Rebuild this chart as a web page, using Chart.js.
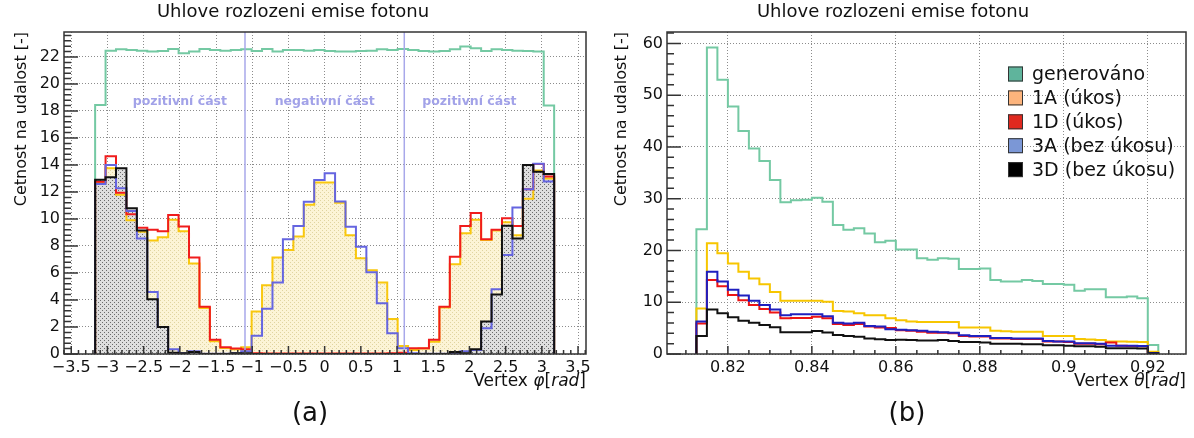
<!DOCTYPE html>
<html>
<head>
<meta charset="utf-8">
<script src="https://cdn.jsdelivr.net/npm/chart.js@4.4.1/dist/chart.umd.min.js"></script>
<style>
html,body{margin:0;padding:0;background:#fff;overflow:hidden;width:1194px;height:438px}
#phi{position:absolute;left:0;top:0}
#theta{position:absolute;left:600px;top:0}
</style>
</head>
<body>
<canvas id="phi" width="620" height="438"></canvas>
<canvas id="theta" width="614" height="438"></canvas>
<script>
// ---- panel (a): vertex phi, 44 bins ----
const phiLo = -3.17, phiHi = 3.17, phiBins = 44;
const phiGen = [18.45,22.47,22.57,22.52,22.47,22.4,22.44,22.59,22.27,22.4,22.59,22.52,22.47,22.52,22.57,22.44,22.59,22.4,22.52,22.52,22.47,22.52,22.44,22.4,22.4,22.44,22.47,22.57,22.52,22.59,22.52,22.44,22.4,22.44,22.57,22.77,22.64,22.44,22.57,22.52,22.47,22.44,22.4,18.4];
const phi1A = [12.65,13.75,11.8,9.9,9.05,8.4,8.65,9.95,9.1,6.7,3.4,0.95,0.45,0.35,0.5,3.15,5.1,7.15,7.7,8.7,11.05,12.7,12.7,11.2,8.8,7.1,6.2,5.3,2.6,0.6,0.3,0.4,0.9,3.45,6.65,8.95,9.95,8.45,9.15,9.75,8.8,11.5,13.6,13.0];
const phi1D = [12.75,14.65,11.95,10.35,9.35,9.2,9.1,10.3,9.45,7.15,3.5,1.05,0.5,0.4,0.35,0.05,0.03,0.03,0.03,0.03,0.03,0.03,0.03,0.03,0.03,0.03,0.03,0.03,0.05,0.1,0.42,0.42,1.05,3.5,7.2,9.48,10.45,8.5,9.2,10.05,9.48,12.2,14.07,13.15];
const phi3A = [12.6,14.0,12.27,10.6,8.55,4.6,2.0,0.35,0.05,0.2,0.02,0.02,0.02,0.05,0.2,1.35,3.35,5.3,8.5,9.48,11.28,12.89,13.38,11.3,9.43,7.95,6.05,3.75,1.53,0.42,0.05,0.02,0.02,0.02,0.05,0.2,0.3,1.9,4.8,7.33,10.85,12.2,14.1,12.77];
const phi3D = [12.9,13.1,13.75,10.8,9.15,4.05,2.0,0.1,0.05,0.15,0,0,0,0.05,0.05,0,0,0,0,0,0,0,0,0,0,0,0,0,0,0,0,0,0,0,0.15,0.05,0.35,2.4,4.4,9.5,8.55,14.0,13.5,13.33];
const phiTicksX = [-3.5,-3,-2.5,-2,-1.5,-1,-0.5,0,0.5,1,1.5,2,2.5,3,3.5];
const phiTicksY = [0,2,4,6,8,10,12,14,16,18,20,22];
const partNames = ["pozitivní část","negativní část","pozitivní část"];
const partX = [-2,0,2];
const partY = 18.7;
const cutX = [-1.1,1.1];

// ---- panel (b): vertex theta, 44 bins ----
const thLo = 0.8125, thHi = 0.9225, thBins = 44;
const thGen = [24.1,59.2,53.0,47.8,43.1,39.7,37.3,33.6,29.3,29.7,29.8,30.2,29.4,24.9,24.0,24.3,23.3,21.6,21.9,20.2,20.2,18.5,18.2,18.5,18.4,16.4,16.4,16.5,14.3,14.0,14.0,14.3,14.1,13.5,13.5,13.4,12.2,12.5,12.5,10.95,10.95,11.1,10.75,1.74];
const th1A = [8.8,21.4,19.45,17.5,15.9,14.6,13.45,12.0,10.3,10.3,10.3,10.3,10.1,8.3,8.2,7.85,7.5,7.5,6.9,6.5,6.3,6.2,6.2,6.2,6.2,5.1,5.1,5.1,4.5,4.4,4.3,4.3,4.3,3.5,3.5,3.5,2.9,2.8,2.7,2.4,2.4,2.35,2.3,0.45];
const th1D = [5.9,14.3,13.1,11.4,10.4,9.46,8.7,8.0,6.9,6.95,6.95,7.2,6.9,5.8,5.6,5.8,5.3,5.1,5.0,4.6,4.5,4.3,4.1,4.1,4.0,3.5,3.4,3.4,3.0,3.0,2.9,2.9,2.9,2.4,2.4,2.3,2.0,2.0,1.9,2.2,1.6,1.55,1.5,0.15];
const th3A = [6.3,15.9,14.0,12.4,11.3,10.3,9.46,8.6,7.5,7.7,7.7,7.7,7.3,6.05,5.9,6.05,5.4,5.3,4.8,4.7,4.6,4.5,4.3,4.2,4.1,3.6,3.5,3.5,3.1,3.1,3.0,3.0,3.0,2.5,2.4,2.4,2.1,2.1,2.0,1.6,1.6,1.6,1.55,0.2];
const th3D = [3.5,8.6,7.85,7.1,6.4,6.05,5.6,5.15,4.2,4.2,4.2,4.45,4.15,3.65,3.5,3.35,3.0,2.85,2.7,2.75,2.7,2.6,2.6,2.7,2.5,2.3,2.3,2.2,2.0,2.0,2.0,1.9,1.9,1.7,1.7,1.6,1.5,1.5,1.4,1.1,1.1,1.1,1.05,0.1];
const thTicksX = [0.82,0.84,0.86,0.88,0.9,0.92];
const thTicksY = [0,10,20,30,40,50,60];
const legendNames = ["generováno","1A (úkos)","1D (úkos)","3A (bez úkosu)","3D (bez úkosu)"];
const legendColors = ["#5fb49c","#fdb47c","#e0291f","#7b97d6","#000000"];

const F = '"DejaVu Sans", sans-serif';
Chart.defaults.font.family = F;

function binEdges(lo, hi, n){ const e=[]; for(let i=0;i<=n;i++) e.push(lo+(hi-lo)*i/n); return e; }
function hist(e, v){
  const p=[{x:e[0],y:0}];
  v.forEach((y,i)=>p.push({x:e[i],y:y}));
  p.push({x:e[v.length],y:v[v.length-1]});
  p.push({x:e[v.length],y:0});
  return p;
}
function dots(bg, fg){
  const c=document.createElement('canvas'); c.width=4; c.height=4;
  const g=c.getContext('2d'); g.fillStyle=bg; g.fillRect(0,0,4,4);
  g.fillStyle=fg; g.fillRect(0,0,1,1); g.fillRect(2,2,1,1);
  return g.createPattern(c,'repeat');
}
function line(label, data, color, order){
  return {label, data, borderColor:color, borderWidth:2, backgroundColor:'transparent', fill:false, stepped:true, pointRadius:0, order};
}
function area(data, pat, order){
  return {data, borderWidth:0, borderColor:'transparent', backgroundColor:pat, fill:'origin', stepped:true, pointRadius:0, order};
}
const fmt = v => String(v).replace('-', '\u2212');

// ROOT-like frame, inner ticks, annotations, legend and axis title
const rootStyle = {
  id:'rootStyle',
  afterDatasetsDraw(chart, args, o){
    const {ctx, chartArea:a, scales:{x,y}} = chart;
    ctx.save();
    (o.cuts||[]).forEach(v=>{
      const px=x.getPixelForValue(v);
      ctx.strokeStyle='#a8a8ea'; ctx.lineWidth=1.5;
      ctx.beginPath(); ctx.moveTo(px,a.top); ctx.lineTo(px,a.bottom); ctx.stroke();
    });
    (o.parts||[]).forEach((t,i)=>{
      ctx.fillStyle='#a2a2e8'; ctx.font='bold 12.5px '+F; ctx.textAlign='center'; ctx.textBaseline='middle';
      ctx.fillText(t, x.getPixelForValue(o.partX[i]), y.getPixelForValue(o.partY));
    });
    ctx.strokeStyle='#333'; ctx.lineWidth=1.5;
    const minorTicks=(s, step, majors, cb)=>{
      for(let k=Math.ceil(s.min/step-1e-9); k*step<=s.max+1e-12; k++){
        const v=k*step; const major=majors.some(m=>Math.abs(m-v)<step*0.01);
        cb(s.getPixelForValue(v), major);
      }
    };
    ctx.beginPath();
    minorTicks(x, o.xMinor, o.xMajor, (p,m)=>{ ctx.moveTo(p,a.bottom); ctx.lineTo(p,a.bottom-(m?8:4)); });
    minorTicks(y, o.yMinor, o.yMajor, (p,m)=>{ ctx.moveTo(a.left,p); ctx.lineTo(a.left+(m?14:7),p); });
    ctx.stroke();
    ctx.strokeRect(a.left,a.top,a.right-a.left,a.bottom-a.top);
    ctx.restore();
  },
  afterDraw(chart, args, o){
    const {ctx, chartArea:a} = chart;
    ctx.save();
    // x axis title: Vertex φ[rad]
    const segs=[['Vertex ',false],[o.sym,true],['[',false],['rad',true],[']',false]];
    const fnt=it=>(it?'italic ':'')+'17px '+F;
    let w=0; segs.forEach(s=>{ctx.font=fnt(s[1]); w+=ctx.measureText(s[0]).width;});
    let xx=a.right-w; ctx.fillStyle='#111'; ctx.textBaseline='middle'; ctx.textAlign='left';
    segs.forEach(s=>{ctx.font=fnt(s[1]); ctx.fillText(s[0],xx,382); xx+=ctx.measureText(s[0]).width;});
    // panel label
    ctx.font='26px '+F; ctx.textAlign='center';
    ctx.fillText(o.panel, chart.width/2, 414);
    // legend
    if(o.legend){
      o.legend.forEach((name,i)=>{
        const bx=a.right-178, yy=a.top+42+i*23.9;
        ctx.fillStyle=o.legendColors[i]; ctx.fillRect(bx,yy-7.5,15,15);
        ctx.strokeStyle='#333'; ctx.lineWidth=1; ctx.strokeRect(bx+0.5,yy-7,14,14);
        ctx.fillStyle='#111'; ctx.font='19px '+F; ctx.textAlign='left';
        ctx.fillText(name,bx+24,yy+1);
      });
    }
    ctx.restore();
  }
};

function axes(xmin,xmax,xt,ymax,yt,yw){
  const grid={color:'#8c8c8c',lineWidth:1,drawTicks:false};
  const border={display:false,dash:[1,2]};
  const tf={family:F,size:16};
  return {
    x:{type:'linear',min:xmin,max:xmax,grid,border,
      afterBuildTicks:s=>{s.ticks=xt.map(v=>({value:v}));},
      afterFit:s=>{s.height=84;s.paddingLeft=0;s.paddingRight=0;},
      ticks:{padding:4,color:'#111',font:tf,maxRotation:0,autoSkip:false,callback:v=>fmt(v)}},
    y:{type:'linear',min:0,max:ymax,grid,border,
      afterBuildTicks:s=>{s.ticks=yt.map(v=>({value:v}));},
      afterFit:s=>{s.width=yw;s.paddingTop=0;s.paddingBottom=0;},
      ticks:{padding:4,color:'#111',font:tf,autoSkip:false,callback:v=>fmt(v)},
      title:{display:true,text:'Cetnost na udalost [-]',align:'end',color:'#111',font:{family:F,size:16},padding:{top:12,bottom:0}}}
  };
}
function titleOpt(){
  return {display:true,text:'Uhlove rozlozeni emise fotonu',color:'#111',font:{family:F,size:18,weight:'normal'},padding:{top:2,bottom:8.4}};
}

const ePhi = binEdges(phiLo, phiHi, phiBins);
new Chart(document.getElementById('phi'),{
  type:'line',
  data:{datasets:[
    area(hist(ePhi,phi1A), dots('#fcf4d6','#e0d4a0'), 10),
    area(hist(ePhi,phi3D), dots('#dedede','#6a6a6a'), 9),
    line('generováno', hist(ePhi,phiGen), '#74c9a3', 5),
    line('1A (úkos)', hist(ePhi,phi1A), '#f9c80e', 4),
    line('1D (úkos)', hist(ePhi,phi1D), '#f01c1c', 3),
    line('3A (bez úkosu)', hist(ePhi,phi3A), '#6565e0', 2),
    line('3D (bez úkosu)', hist(ePhi,phi3D), '#111111', 1)
  ]},
  options:{
    responsive:false, animation:false, devicePixelRatio:1,
    layout:{padding:{left:0,right:34,top:0,bottom:0}},
    scales:axes(-3.6,3.61,phiTicksX,23.85,phiTicksY,64),
    plugins:{legend:{display:false},tooltip:{enabled:false},title:titleOpt(),
      rootStyle:{cuts:cutX,parts:partNames,partX:partX,partY:partY,xMinor:0.1,xMajor:phiTicksX,yMinor:0.4,yMajor:phiTicksY,sym:'\u03c6',panel:'(a)'}}
  },
  plugins:[rootStyle]
});

const eTh = binEdges(thLo, thHi, thBins);
new Chart(document.getElementById('theta'),{
  type:'line',
  data:{datasets:[
    line('generováno', hist(eTh,thGen), '#74c9a3', 5),
    line('1A (úkos)', hist(eTh,th1A), '#f7c600', 4),
    line('1D (úkos)', hist(eTh,th1D), '#ee1414', 3),
    line('3A (bez úkosu)', hist(eTh,th3A), '#1f1fbf', 2),
    line('3D (bez úkosu)', hist(eTh,th3D), '#111111', 1)
  ]},
  options:{
    responsive:false, animation:false, devicePixelRatio:1,
    layout:{padding:{left:0,right:28,top:0,bottom:0}},
    scales:axes(0.8055,0.9291,thTicksX,62.2,thTicksY,67),
    plugins:{legend:{display:false},tooltip:{enabled:false},title:titleOpt(),
      rootStyle:{xMinor:0.005,xMajor:thTicksX,yMinor:2,yMajor:thTicksY,sym:'\u03b8',panel:'(b)',legend:legendNames,legendColors:legendColors}}
  },
  plugins:[rootStyle]
});
</script>
</body>
</html>
